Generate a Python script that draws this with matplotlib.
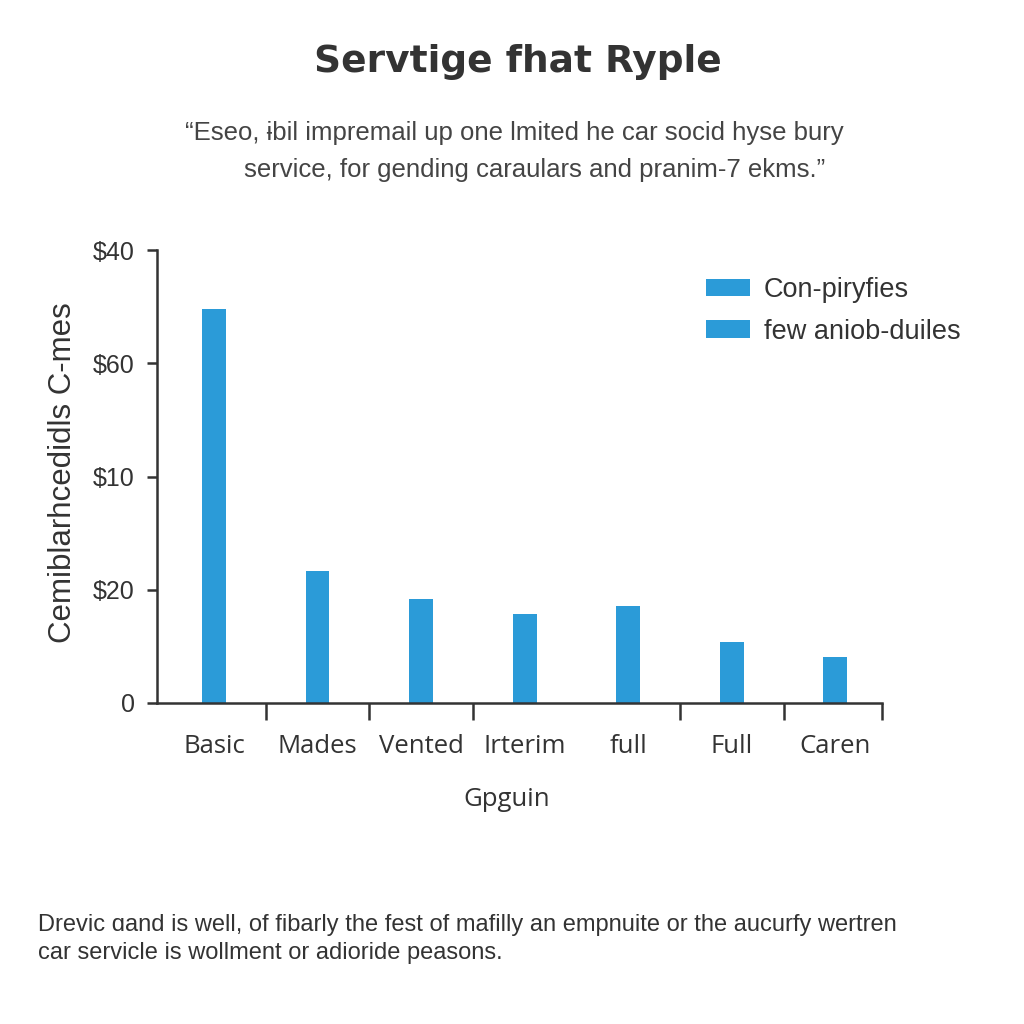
import matplotlib
matplotlib.use("Agg")
import matplotlib.pyplot as plt
from matplotlib.patches import Patch

### 데이터
categories = ["Basic", "Mades", "Vented", "Irterim", "full", "Full", "Caren"]
values = [69.6, 23.3, 18.4, 15.7, 17.1, 10.8, 8.1]
ytick_values = [0, 20, 40, 60, 80]
ytick_labels = ["0", "$20", "$10", "$60", "$40"]
legend_labels = ["Con-piryfies", "few aniob-duiles"]
boundary_ticks = [0.5, 1.5, 2.5, 4.5, 5.5, 6.45]

title = "Servtige fhat Ryple"
subtitle_1 = "\u201cEseo, \u0268bil impremail up one lmited he car socid hyse bury"
subtitle_2 = "service, for gending caraulars and pranim-7 ekms.\u201d"
ylabel = "Cemiblarhcedidls C-mes"
xlabel = "Gpguin"
footer = ("Drevic \u0251and is well, of fibarly the fest of mafilly an empnuite or the aucurfy wertren\n"
          "car servicle is wollment or adioride peasons.")

bar_color = "#2b9bd8"
ink = "#333333"

plt.rcParams["font.family"] = ["Liberation Sans", "DejaVu Sans"]

fig = plt.figure(figsize=(10.24, 10.24), dpi=100)
ax = fig.add_axes([157 / 1024, 1 - 703 / 1024, (882 - 157) / 1024, (703 - 250) / 1024])

x = range(len(categories))
ax.bar(x, values, width=0.23, color=bar_color)

ax.set_xlim(-0.55, 6.45)
ax.set_ylim(0, 80)

# 축 스타일
for side in ["top", "right"]:
    ax.spines[side].set_visible(False)
for side in ["left", "bottom"]:
    ax.spines[side].set_color(ink)
    ax.spines[side].set_linewidth(1.8)

ax.set_yticks(ytick_values)
ax.set_yticklabels(ytick_labels, fontsize=18, color=ink)
ax.tick_params(axis="y", length=7, width=1.8, color=ink, pad=9)

ax.set_xticks(list(x))
ax.set_xticklabels(categories, fontsize=18.5, color=ink, family=["Open Sans", "DejaVu Sans"])
ax.tick_params(axis="x", which="major", length=0, pad=22)
ax.set_xticks(boundary_ticks, minor=True)
ax.tick_params(axis="x", which="minor", length=12, width=1.8, color=ink)

ax.set_xlabel(xlabel, fontsize=18.5, color=ink, family=["Open Sans", "DejaVu Sans"])
ax.xaxis.set_label_coords((507 - 157) / (882 - 157), -(800 - 703) / (703 - 250))
ax.xaxis.label.set_va("center")
fig.text(63 / 1024, 1 - 473 / 1024, ylabel, rotation=90, fontsize=22.5, color=ink,
         ha="center", va="center")

# 범례
handles = [Patch(facecolor=bar_color) for _ in legend_labels]
ax.legend(handles, legend_labels, loc="upper left",
          bbox_to_anchor=(706 / 1024, 1 - 277 / 1024), bbox_transform=fig.transFigure,
          frameon=False, borderpad=0, borderaxespad=0, fontsize=19.5,
          handlelength=1.63, handleheight=0.63, handletextpad=0.5, labelspacing=0.58,
          labelcolor=ink)

# 제목, 부제, 하단 문구
fig.text(0.506, 1 - 62 / 1024, title, fontsize=27, fontweight="bold", color=ink,
         ha="center", va="center", family=["DejaVu Sans"])
fig.text(514 / 1024, 1 - 133 / 1024, subtitle_1, fontsize=18.5, color="#444444",
         ha="center", va="center")
fig.text(535 / 1024, 1 - 170 / 1024, subtitle_2, fontsize=18.5, color="#444444",
         ha="center", va="center")
fig.text(38 / 1024, 1 - 939 / 1024, footer, fontsize=17, color=ink,
         ha="left", va="center", linespacing=1.3)

fig.savefig("out.png", dpi=100, facecolor="white")
plt.close(fig)
